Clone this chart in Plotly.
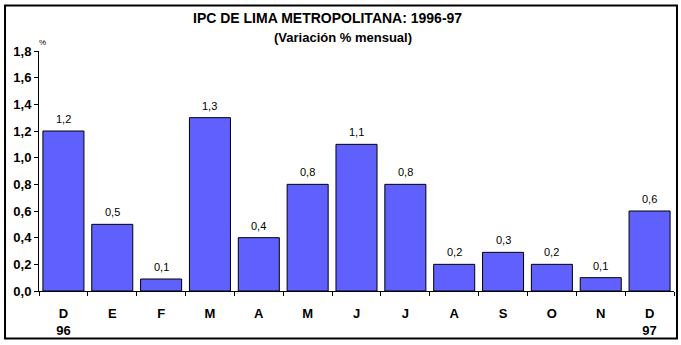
import plotly.graph_objects as go

months = ["D<br>96", "E", "F", "M", "A", "M", "J", "J", "A", "S", "O", "N", "D<br>97"]
values = [1.2, 0.5, 0.09, 1.3, 0.4, 0.8, 1.1, 0.8, 0.2, 0.29, 0.2, 0.1, 0.6]
labels = ["1,2", "0,5", "0,1", "1,3", "0,4", "0,8", "1,1", "0,8", "0,2", "0,3", "0,2", "0,1", "0,6"]
y_ticks = [0.0, 0.2, 0.4, 0.6, 0.8, 1.0, 1.2, 1.4, 1.6, 1.8]
y_ticktext = ["0,0", "0,2", "0,4", "0,6", "0,8", "1,0", "1,2", "1,4", "1,6", "1,8"]

idx = list(range(len(months)))
FONT = "Arial, Liberation Sans, sans-serif"

fig = go.Figure(go.Bar(
    x=idx, y=values,
    marker=dict(color="#6060FF", line=dict(color="black", width=1)),
    width=0.84, cliponaxis=False,
))

label_annotations = [
    dict(x=i, y=v, text=t, xref="x", yref="y", showarrow=False,
         xanchor="center", yanchor="middle", yshift=12,
         font=dict(family=FONT, size=11, color="black"))
    for i, v, t in zip(idx, values, labels)
]

fig.update_layout(
    width=681, height=345,
    margin=dict(l=39, r=7, t=51, b=52),
    paper_bgcolor="white", plot_bgcolor="white",
    showlegend=False,
    xaxis=dict(
        range=[-0.5, 12.5], tickvals=idx, ticktext=months,
        ticks="", showline=True, linecolor="black", linewidth=1,
        showgrid=False, zeroline=False, ticklabelstandoff=10,
        tickfont=dict(family=FONT, size=13, color="black", weight="bold"),
        minor=dict(tickvals=[i - 0.5 for i in range(len(months) + 1)],
                   ticks="outside", ticklen=4, tickcolor="black", showgrid=False),
    ),
    yaxis=dict(
        range=[0, 1.8], tickvals=y_ticks, ticktext=y_ticktext,
        ticks="outside", ticklen=4, tickcolor="black",
        showline=True, linecolor="black", linewidth=1,
        showgrid=False, zeroline=False,
        tickfont=dict(family=FONT, size=13, color="black", weight="bold"),
    ),
    shapes=[dict(type="rect", xref="paper", yref="paper",
                 x0=-0.0535, x1=1.0047, y0=-0.198, y1=1.19,
                 line=dict(color="black", width=2), fillcolor="rgba(0,0,0,0)")],
    annotations=label_annotations + [
        dict(text="IPC DE LIMA METROPOLITANA: 1996-97", xref="paper", yref="paper",
             x=0.455, y=1.136, showarrow=False, xanchor="center", yanchor="middle",
             font=dict(family=FONT, size=14, color="black", weight="bold")),
        dict(text="(Variación % mensual)", xref="paper", yref="paper",
             x=0.479, y=1.058, showarrow=False, xanchor="center", yanchor="middle",
             font=dict(family=FONT, size=13, color="black", weight="bold")),
        dict(text="%", xref="paper", yref="paper",
             x=0.005, y=1.037, showarrow=False, xanchor="center", yanchor="middle",
             font=dict(family=FONT, size=8, color="black")),
    ],
)

fig.write_html("out.html")
